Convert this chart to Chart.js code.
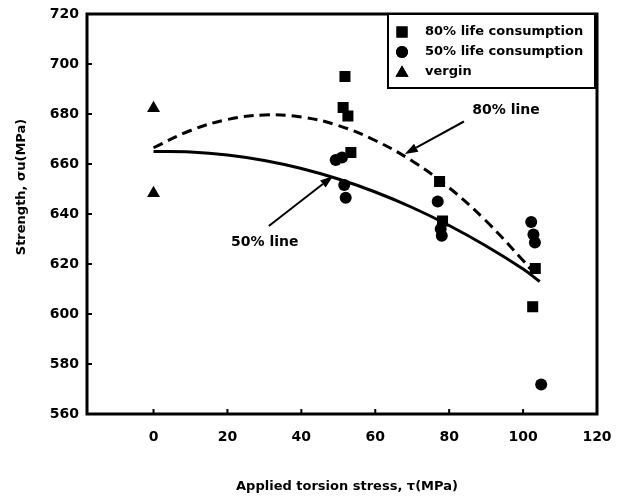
<!DOCTYPE html>
<html><head><meta charset="utf-8">
<script src="https://cdn.jsdelivr.net/npm/chart.js@4/dist/chart.umd.min.js"></script>
<style>html,body{margin:0;padding:0;background:#fff;}canvas{display:block;}</style>
</head><body>
<canvas id="c" width="622" height="500" style="width:622px;height:500px"></canvas>
<script>
// ---- data ----
const xTicks = [0, 20, 40, 60, 80, 100, 120];
const yTicks = [560, 580, 600, 620, 640, 660, 680, 700, 720];

const life80X = [51.8, 51.3, 52.6, 53.4, 77.4, 78.2, 103.3, 102.6];
const life80Y = [695.0, 682.6, 679.2, 664.6, 653.0, 637.2, 618.2, 602.9];

const life50X = [49.3, 51.0, 51.6, 52.0, 76.9, 77.7, 78.0, 102.2, 102.8, 103.2, 104.9];
const life50Y = [661.6, 662.6, 651.6, 646.5, 645.0, 634.0, 631.3, 636.8, 631.8, 628.6, 571.8];

const virginX = [0, 0];
const virginY = [682.3, 648.3];

const line80X = [0, 10, 20, 30, 40, 50, 60, 70, 80, 90, 100, 102];
const line80Y = [666.5, 673.4, 677.8, 679.6, 678.8, 675.4, 669.4, 661.2, 650.5, 637.2, 621.4, 618.0];

const line50X = [0, 10, 20, 30, 40, 50, 60, 70, 80, 90, 100, 104.5];
const line50Y = [665.0, 664.8, 663.6, 661.4, 658.2, 654.0, 648.8, 642.6, 635.4, 627.2, 618.0, 613.0];

const legendLabels = ['80% life consumption', '50% life consumption', 'vergin'];
const xTitle = 'Applied torsion stress, \u03c4(MPa)';
const yTitle = 'Strength, \u03c3u(MPa)';

// annotation text and arrow (data coordinates)
const note80 = {text: '80% line', x: 95.4, y: 681.6, tail: [84, 677.0], head: [68, 664.0]};
const note50 = {text: '50% line', x: 30.1, y: 628.8, tail: [31.2, 635.2], head: [48.6, 655.2]};

const zip = (xs, ys) => xs.map((x, i) => ({x: x, y: ys[i]}));
const FONT = "'DejaVu Sans', sans-serif";

const ink = '#000';

const decor = {
  id: 'decor',
  beforeDatasetsDraw(chart) {
    const {ctx, chartArea: a, scales: {x, y}} = chart;
    ctx.save();
    ctx.strokeStyle = ink;
    ctx.lineWidth = 3;
    ctx.strokeRect(a.left, a.top, a.right - a.left, a.bottom - a.top);
    // inward tick marks
    ctx.lineWidth = 2;
    ctx.beginPath();
    xTicks.forEach(v => { const px = x.getPixelForValue(v); ctx.moveTo(px, a.bottom); ctx.lineTo(px, a.bottom - 5); });
    yTicks.forEach(v => { const py = y.getPixelForValue(v); ctx.moveTo(a.left, py); ctx.lineTo(a.left + 5, py); });
    ctx.stroke();
    ctx.restore();
  },
  afterDatasetsDraw(chart) {
    const {ctx, chartArea: a, scales: {x, y}} = chart;
    ctx.save();
    ctx.fillStyle = ink; ctx.strokeStyle = ink;
    ctx.font = 'bold 14px ' + FONT;
    ctx.textAlign = 'center'; ctx.textBaseline = 'middle';
    [note80, note50].forEach(n => {
      ctx.fillText(n.text, x.getPixelForValue(n.x), y.getPixelForValue(n.y));
      const tx = x.getPixelForValue(n.tail[0]), ty = y.getPixelForValue(n.tail[1]);
      const hx = x.getPixelForValue(n.head[0]), hy = y.getPixelForValue(n.head[1]);
      const ang = Math.atan2(hy - ty, hx - tx);
      const L = 13, W = 4.5;
      const bx = hx - L * Math.cos(ang), by = hy - L * Math.sin(ang);
      ctx.lineWidth = 2;
      ctx.beginPath(); ctx.moveTo(tx, ty); ctx.lineTo(bx, by); ctx.stroke();
      ctx.beginPath();
      ctx.moveTo(hx, hy);
      ctx.lineTo(bx + W * Math.sin(ang), by - W * Math.cos(ang));
      ctx.lineTo(bx - W * Math.sin(ang), by + W * Math.cos(ang));
      ctx.closePath(); ctx.fill();
    });
    // legend
    const lx0 = 388, lx1 = 595, ly0 = a.top, ly1 = 88;
    ctx.fillStyle = '#fff';
    ctx.fillRect(lx0, ly0, lx1 - lx0, ly1 - ly0);
    ctx.lineWidth = 2; ctx.strokeStyle = ink;
    ctx.strokeRect(lx0, ly0, lx1 - lx0, ly1 - ly0);
    ctx.fillStyle = ink;
    const styles = ['rect', 'circle', 'triangle'];
    const radii = [7.8, 6, 7.5];
    const rows = [32, 52, 72];
    ctx.textAlign = 'left';
    ctx.font = 'bold 13px ' + FONT;
    legendLabels.forEach((t, i) => {
      Chart.helpers.drawPoint(ctx, {pointStyle: styles[i], radius: radii[i], borderWidth: 0, rotation: 0}, 402, rows[i] + (i === 2 ? 1 : 0));
      ctx.fill();
      ctx.fillText(t, 425, rows[i]);
    });
    // axis titles
    ctx.font = 'bold 13px ' + FONT;
    ctx.textAlign = 'center';
    ctx.fillText(xTitle, 347, 487);
    ctx.save();
    ctx.translate(22, 187);
    ctx.rotate(-Math.PI / 2);
    ctx.fillText(yTitle, 0, 0);
    ctx.restore();
    ctx.restore();
  }
};

new Chart(document.getElementById('c'), {
  type: 'scatter',
  data: {
    datasets: [
      {label: '80% line', type: 'line', data: zip(line80X, line80Y), borderColor: ink, borderWidth: 3,
       borderDash: [10, 6], pointRadius: 0, tension: 0.4, fill: false, order: 5},
      {label: '50% line', type: 'line', data: zip(line50X, line50Y), borderColor: ink, borderWidth: 3,
       pointRadius: 0, tension: 0.4, fill: false, order: 4},
      {label: legendLabels[0], data: zip(life80X, life80Y), pointStyle: 'rect', pointRadius: 7.8,
       backgroundColor: ink, borderWidth: 0, order: 1},
      {label: legendLabels[1], data: zip(life50X, life50Y), pointStyle: 'circle', pointRadius: 6,
       backgroundColor: ink, borderWidth: 0, order: 2},
      {label: legendLabels[2], data: zip(virginX, virginY), pointStyle: 'triangle', pointRadius: 7.5,
       backgroundColor: ink, borderWidth: 0, order: 3}
    ]
  },
  options: {
    responsive: false, animation: false, devicePixelRatio: 1,
    layout: {padding: {left: 0, right: 25, top: 14, bottom: 0}},
    plugins: {legend: {display: false}, tooltip: {enabled: false}},
    scales: {
      x: {
        type: 'linear', min: -18, max: 120,
        afterBuildTicks: s => { s.ticks = xTicks.map(v => ({value: v})); },
        afterFit: s => { s.height = 86; s.paddingLeft = 0; s.paddingRight = 0; },
        grid: {display: false, drawTicks: false}, border: {display: false},
        ticks: {padding: 15, color: ink, font: {family: FONT, size: 14, weight: 'bold'}, maxRotation: 0}
      },
      y: {
        type: 'linear', min: 560, max: 720,
        afterBuildTicks: s => { s.ticks = yTicks.map(v => ({value: v})); },
        afterFit: s => { s.width = 87; s.paddingTop = 0; s.paddingBottom = 0; },
        grid: {display: false, drawTicks: false}, border: {display: false},
        ticks: {padding: 8, color: ink, font: {family: FONT, size: 14, weight: 'bold'}}
      }
    }
  },
  plugins: [decor]
});
</script>
</body></html>
